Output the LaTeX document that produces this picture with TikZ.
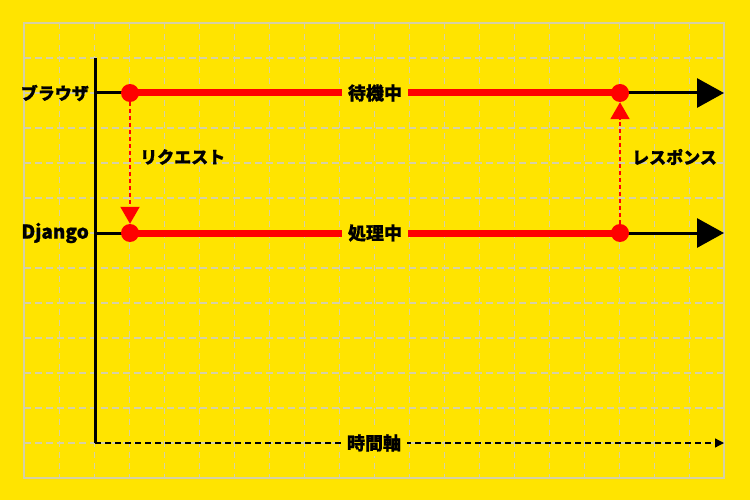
\documentclass[tikz,border=0pt]{standalone}
\usepackage{fontspec}
\setmainfont{Noto Sans CJK JP}[BoldFeatures={FakeBold=0.8}]
\usetikzlibrary{arrows.meta}
\definecolor{bgy}{RGB}{255,228,0}
\definecolor{gridc}{RGB}{214,208,165}
\definecolor{redc}{RGB}{255,0,0}
\pgfdeclarelayer{bg}
\pgfsetlayers{bg,main}
\tikzset{
  gridv/.style={draw=gridc,line width=1pt,dash pattern=on 6pt off 5pt},
  gridh/.style={draw=gridc,line width=1.5pt,dash pattern=on 7pt off 4pt},
  gridframe/.style={draw=gridc,line width=1.5pt},
  dot/.style={circle,fill=redc,minimum size=18pt,inner sep=0pt},
  redline/.style={draw=redc,line width=7pt},
  blkline/.style={draw=black,line width=3pt},
  bigarrow/.style={draw=black,line width=3pt,-{Triangle[length=27pt,width=29pt]}},
  msgarrow/.style={draw=redc,line width=2pt,dash pattern=on 4pt off 3pt,-{Triangle[length=17pt,width=19pt]}},
  timeaxis/.style={draw=black,line width=1.3pt,dash pattern=on 6pt off 4pt,-{Triangle[length=9pt,width=9pt]}},
  lab/.style={fill=bgy,inner xsep=6pt,inner ysep=4pt,font=\fontsize{18}{18}\selectfont\bfseries},
  txt/.style={inner sep=0pt,font=\fontsize{17}{17}\selectfont\bfseries},
}
\begin{document}
\begin{tikzpicture}[x=1pt,y=-1pt]
\useasboundingbox (0,0) rectangle (750,500);
% points
\coordinate (top) at (95,58);
\coordinate (org) at (95,443);
\coordinate (tend) at (724,443);
\coordinate (bs) at (95,93);
\coordinate (be) at (724,93);
\coordinate (ds) at (95,233);
\coordinate (de) at (724,233);
\node[dot] (b1) at (130,93) {};
\node[dot] (b2) at (620,93) {};
\node[dot] (d1) at (130,233) {};
\node[dot] (d2) at (620,233) {};
\begin{pgfonlayer}{bg}
\fill[bgy] (0,0) rectangle (750,500);
\foreach \i in {1,...,19} \draw[gridv] (24+35*\i,23) -- (24+35*\i,478);
\foreach \j in {1,...,12} \draw[gridh] (24,23+35*\j) -- (724,23+35*\j);
\draw[gridframe] (24,23) rectangle (724,478);
\draw[blkline] (top) -- (org);
\draw[blkline] (bs) -- (b1.center);
\draw[blkline] (ds) -- (d1.center);
\draw[redline] (b1.center) -- (b2.center) node[midway,lab] (wait) {待機中};
\draw[redline] (d1.center) -- (d2.center) node[midway,lab] (proc) {処理中};
\draw[bigarrow] (b2.center) -- (be);
\draw[bigarrow] (d2.center) -- (de);
\draw[timeaxis] (org) -- (tend) node[pos=0.4436,lab] (tl) {時間軸};
\end{pgfonlayer}
\draw[msgarrow] (b1) -- (d1);
\draw[msgarrow] (d2) -- (b2);
\node[txt,anchor=east] (lb) at (89,93) {ブラウザ};
\node[txt,anchor=east,font=\fontsize{19}{19}\selectfont\bfseries] (ld) at (89,233) {Django};
\node[txt,anchor=west] (lreq) at (140,157) {リクエスト};
\node[txt,anchor=west] (lres) at (632,157) {レスポンス};
\end{tikzpicture}
\end{document}
